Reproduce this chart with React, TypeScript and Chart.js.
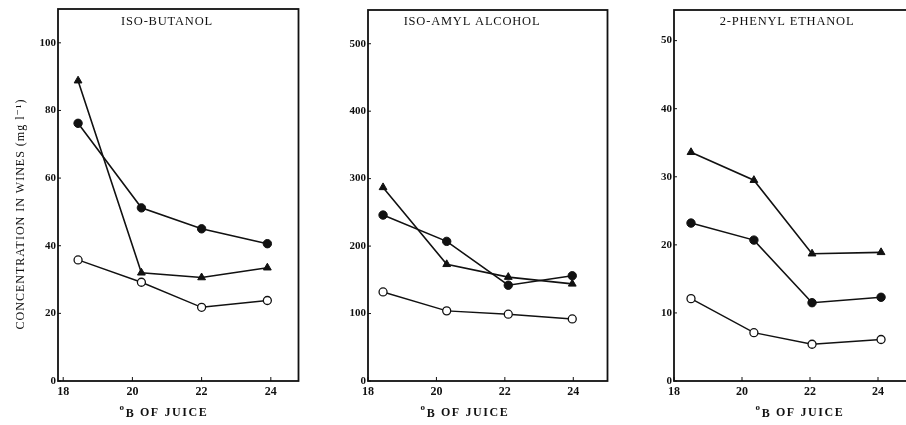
import React, { useEffect, useRef } from "react";
import { Chart, registerables } from "chart.js";

Chart.register(...registerables);

// ---- shared ----
const xTicks = [18, 20, 22, 24];
const xTitle = "OF JUICE";
const yTitle = "CONCENTRATION IN WINES (mg l⁻¹)";

// ---- Panel 1: ISO-BUTANOL ----
const butanolBrix = [18.43, 20.26, 22.0, 23.9];
const butanolTriangle = [88.8, 32.0, 30.6, 33.5];
const butanolFilled = [76.2, 51.2, 45.0, 40.6];
const butanolOpen = [35.8, 29.2, 21.8, 23.8];
const butanolYTicks = [0, 20, 40, 60, 80, 100];

// ---- Panel 2: ISO-AMYL ALCOHOL ----
const amylBrix = [18.44, 20.3, 22.1, 23.97];
const amylTriangle = [287, 173, 154, 144];
const amylFilled = [246, 207, 142, 156];
const amylOpen = [132, 104, 99, 92];
const amylYTicks = [0, 100, 200, 300, 400, 500];

// ---- Panel 3: 2-PHENYL ETHANOL ----
const phenylBrix = [18.5, 20.35, 22.06, 24.09];
const phenylTriangle = [33.6, 29.5, 18.7, 18.9];
const phenylFilled = [23.2, 20.7, 11.5, 12.3];
const phenylOpen = [12.1, 7.1, 5.4, 6.1];
const phenylYTicks = [0, 10, 20, 30, 40, 50];

const FONT = '"Liberation Serif", "DejaVu Serif", serif';
const INK = "#111111";

type Spec = {
  title: string;
  titleCx: number;
  xTitleCx: number;
  left: number;
  width: number;
  yAxisWidth: number;
  padRight: number;
  padTop: number;
  xMin: number;
  xMax: number;
  yMax: number;
  yTicks: number[];
  brix: number[];
  tri: number[];
  filled: number[];
  open: number[];
  showYTitle?: boolean;
};

const H = 425;
const AREA_BOTTOM = 381;

function Panel({ spec }: { spec: Spec }) {
  const ref = useRef<HTMLCanvasElement | null>(null);
  useEffect(() => {
    const canvas = ref.current!;
    const pts = (ys: number[]) => ys.map((y, i) => ({ x: spec.brix[i], y }));
    const decor = {
      id: "decor",
      afterDraw(chart: any) {
        const { ctx, chartArea: a, scales } = chart;
        ctx.save();
        // frame
        ctx.strokeStyle = INK;
        ctx.lineWidth = 1.8;
        ctx.strokeRect(a.left, a.top, a.right - a.left, a.bottom - a.top);
        // inward tick marks
        ctx.lineWidth = 1;
        ctx.beginPath();
        for (const t of scales.x.ticks) {
          const px = scales.x.getPixelForValue(t.value);
          ctx.moveTo(px, a.bottom);
          ctx.lineTo(px, a.bottom - 4);
        }
        for (const t of scales.y.ticks) {
          const py = scales.y.getPixelForValue(t.value);
          ctx.moveTo(a.left, py);
          ctx.lineTo(a.left + 3, py);
        }
        ctx.stroke();
        // panel title
        ctx.fillStyle = INK;
        ctx.textBaseline = "middle";
        ctx.textAlign = "center";
        ctx.font = `12.5px ${FONT}`;
        (ctx as any).letterSpacing = "0.8px";
        ctx.fillText(spec.title, spec.titleCx, 22);
        // x axis title: degree B OF JUICE
        ctx.textAlign = "left";
        ctx.font = `bold 12px ${FONT}`;
        (ctx as any).letterSpacing = "1.6px";
        const mainW = ctx.measureText(" " + xTitle).width;
        const bW = ctx.measureText("B").width;
        ctx.font = `bold 9px ${FONT}`;
        const dW = ctx.measureText("o").width;
        const total = dW + bW + mainW;
        let x0 = spec.xTitleCx - total / 2;
        const yT = 413;
        ctx.font = `bold 9px ${FONT}`;
        ctx.fillText("o", x0, yT - 5);
        x0 += dW;
        ctx.font = `bold 12px ${FONT}`;
        ctx.fillText("B", x0, yT + 1);
        x0 += bW;
        ctx.fillText(" " + xTitle, x0, yT);
        // y title
        if (spec.showYTitle) {
          ctx.save();
          ctx.translate(21, 214);
          ctx.rotate(-Math.PI / 2);
          ctx.textAlign = "center";
          ctx.font = `12px ${FONT}`;
          (ctx as any).letterSpacing = "1px";
          ctx.fillText(yTitle, 0, 0);
          ctx.restore();
        }
        ctx.restore();
      },
    };
    const line = (w: number) => ({ borderColor: INK, borderWidth: w });
    const chart = new Chart(canvas, {
      type: "line",
      data: {
        datasets: [
          {
            data: pts(spec.tri),
            ...line(1.6),
            pointStyle: "triangle",
            pointRadius: 4.5,
            pointBackgroundColor: INK,
            pointBorderColor: INK,
            pointBorderWidth: 1,
          },
          {
            data: pts(spec.filled),
            ...line(1.6),
            pointStyle: "circle",
            pointRadius: 4.2,
            pointBackgroundColor: INK,
            pointBorderColor: INK,
            pointBorderWidth: 1,
          },
          {
            data: pts(spec.open),
            ...line(1.4),
            pointStyle: "circle",
            pointRadius: 4,
            pointBackgroundColor: "#ffffff",
            pointBorderColor: INK,
            pointBorderWidth: 1.3,
          },
        ],
      },
      options: {
        animation: false,
        responsive: false,
        devicePixelRatio: 1,
        layout: { padding: { left: 0, right: spec.padRight, top: spec.padTop, bottom: 0 } },
        plugins: { legend: { display: false }, tooltip: { enabled: false } },
        scales: {
          x: {
            type: "linear",
            min: spec.xMin,
            max: spec.xMax,
            grid: { display: false, drawTicks: false },
            border: { display: false },
            afterBuildTicks: (s: any) => {
              s.ticks = xTicks.map((v) => ({ value: v }));
            },
            afterFit: (s: any) => {
              s.height = H - AREA_BOTTOM;
            },
            ticks: {
              autoSkip: false,
              maxRotation: 0,
              padding: 4,
              color: INK,
              font: { family: FONT, size: 12, weight: "bold" },
            },
          },
          y: {
            type: "linear",
            min: 0,
            max: spec.yMax,
            grid: { display: false, drawTicks: false },
            border: { display: false },
            afterBuildTicks: (s: any) => {
              s.ticks = spec.yTicks.map((v) => ({ value: v }));
            },
            afterFit: (s: any) => {
              s.width = spec.yAxisWidth;
            },
            ticks: {
              padding: 2,
              color: INK,
              font: { family: FONT, size: 11, weight: "bold" },
            },
          },
        },
      },
      plugins: [decor],
    } as any);
    return () => chart.destroy();
  }, [spec]);
  return (
    <canvas
      ref={ref}
      width={spec.width}
      height={H}
      style={{ position: "absolute", left: spec.left, top: 0, width: spec.width, height: H }}
    />
  );
}

const specs: Spec[] = [
  {
    title: "ISO-BUTANOL",
    titleCx: 167,
    xTitleCx: 164,
    left: 0,
    width: 304,
    yAxisWidth: 58,
    padRight: 0,
    padTop: 9,
    xMin: 17.85,
    xMax: 24.8,
    yMax: 110,
    yTicks: butanolYTicks,
    brix: butanolBrix,
    tri: butanolTriangle,
    filled: butanolFilled,
    open: butanolOpen,
    showYTitle: true,
  },
  {
    title: "ISO-AMYL ALCOHOL",
    titleCx: 172,
    xTitleCx: 165,
    left: 300,
    width: 313,
    yAxisWidth: 68,
    padRight: 3,
    padTop: 10,
    xMin: 18,
    xMax: 25,
    yMax: 550,
    yTicks: amylYTicks,
    brix: amylBrix,
    tri: amylTriangle,
    filled: amylFilled,
    open: amylOpen,
  },
  {
    title: "2-PHENYL ETHANOL",
    titleCx: 177,
    xTitleCx: 190,
    left: 610,
    width: 310,
    yAxisWidth: 64,
    padRight: 8,
    padTop: 10,
    xMin: 18,
    xMax: 25,
    yMax: 54.5,
    yTicks: phenylYTicks,
    brix: phenylBrix,
    tri: phenylTriangle,
    filled: phenylFilled,
    open: phenylOpen,
  },
];

export default function App() {
  return (
    <div
      style={{
        position: "fixed",
        left: 0,
        top: 0,
        width: 906,
        height: 425,
        overflow: "hidden",
        background: "#ffffff",
      }}
    >
      {specs.map((s) => (
        <Panel key={s.title} spec={s} />
      ))}
    </div>
  );
}
